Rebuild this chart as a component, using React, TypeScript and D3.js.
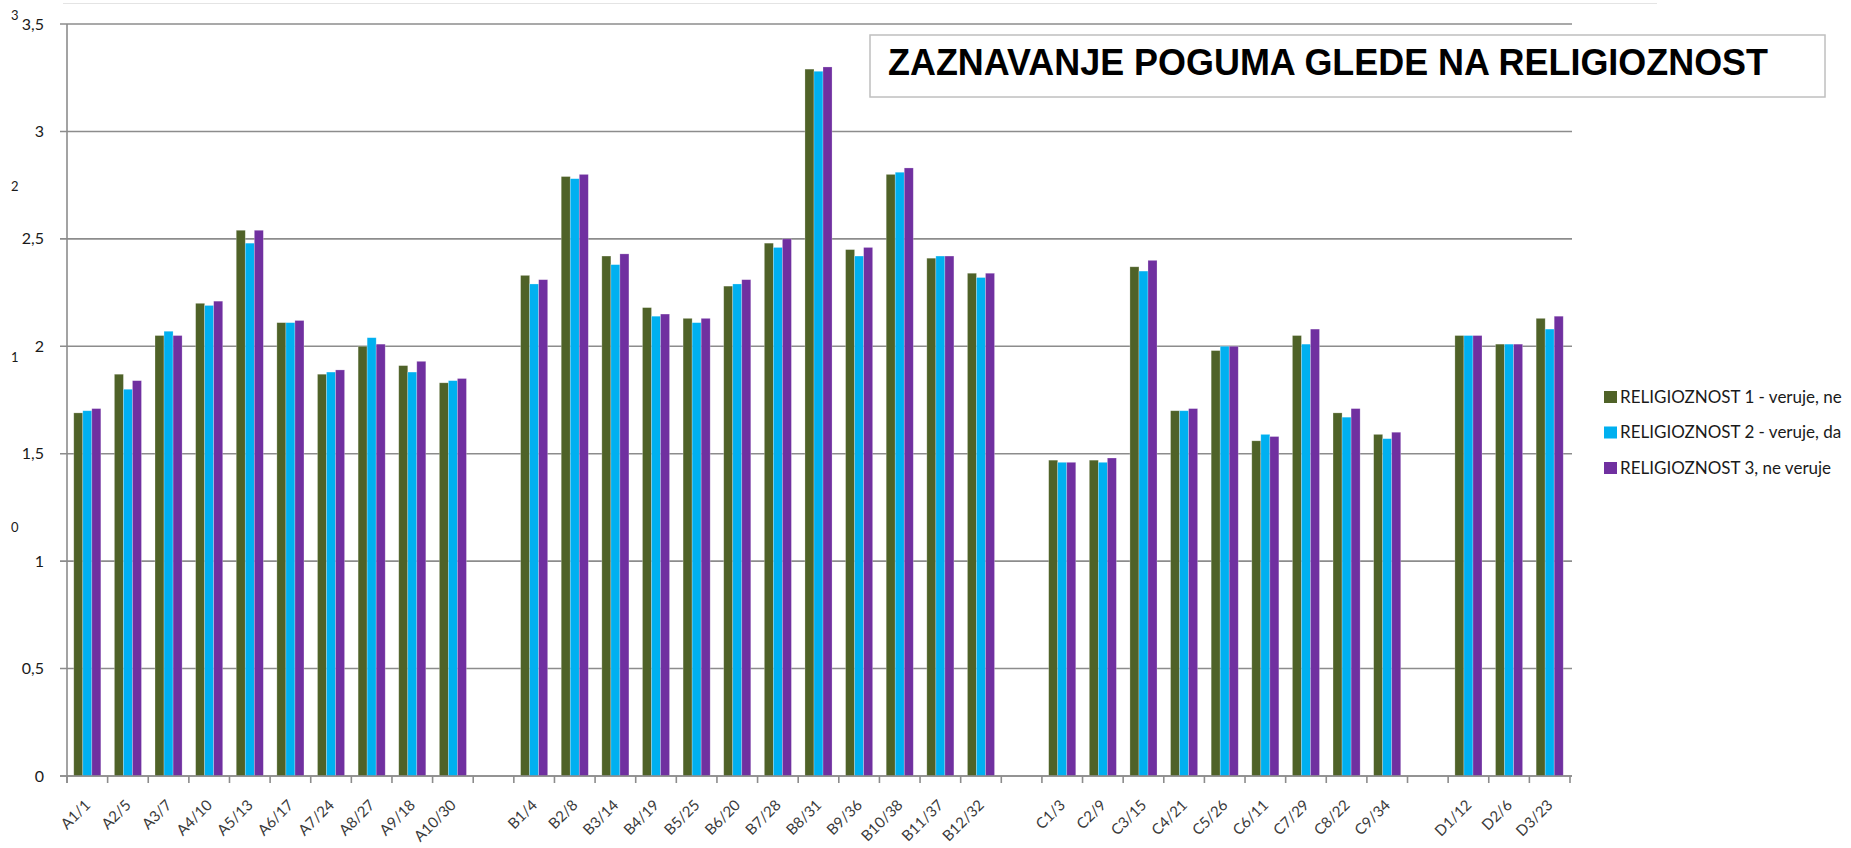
import * as d3 from "d3";

// empty strings are the blank spacer categories between the groups
const categories = [
  "A1/1", "A2/5", "A3/7", "A4/10", "A5/13", "A6/17", "A7/24", "A8/27", "A9/18", "A10/30",
  "",
  "B1/4", "B2/8", "B3/14", "B4/19", "B5/25", "B6/20", "B7/28", "B8/31", "B9/36", "B10/38", "B11/37", "B12/32",
  "",
  "C1/3", "C2/9", "C3/15", "C4/21", "C5/26", "C6/11", "C7/29", "C8/22", "C9/34",
  "",
  "D1/12", "D2/6", "D3/23",
];

const rel1 = [
  1.69, 1.87, 2.05, 2.2, 2.54, 2.11, 1.87, 2.0, 1.91, 1.83,
  null,
  2.33, 2.79, 2.42, 2.18, 2.13, 2.28, 2.48, 3.29, 2.45, 2.8, 2.41, 2.34,
  null,
  1.47, 1.47, 2.37, 1.7, 1.98, 1.56, 2.05, 1.69, 1.59,
  null,
  2.05, 2.01, 2.13,
];
const rel2 = [
  1.7, 1.8, 2.07, 2.19, 2.48, 2.11, 1.88, 2.04, 1.88, 1.84,
  null,
  2.29, 2.78, 2.38, 2.14, 2.11, 2.29, 2.46, 3.28, 2.42, 2.81, 2.42, 2.32,
  null,
  1.46, 1.46, 2.35, 1.7, 2.0, 1.59, 2.01, 1.67, 1.57,
  null,
  2.05, 2.01, 2.08,
];
const rel3 = [
  1.71, 1.84, 2.05, 2.21, 2.54, 2.12, 1.89, 2.01, 1.93, 1.85,
  null,
  2.31, 2.8, 2.43, 2.15, 2.13, 2.31, 2.5, 3.3, 2.46, 2.83, 2.42, 2.34,
  null,
  1.46, 1.48, 2.4, 1.71, 2.0, 1.58, 2.08, 1.71, 1.6,
  null,
  2.05, 2.01, 2.14,
];

const seriesNames = [
  "RELIGIOZNOST  1 - veruje, ne",
  "RELIGIOZNOST  2 - veruje, da",
  "RELIGIOZNOST  3, ne veruje",
];
const seriesColors = ["#4f6228", "#00b0f0", "#7030a0"];
const yTicks = [0, 0.5, 1, 1.5, 2, 2.5, 3, 3.5];
// leftover labels of a hidden secondary axis at the far left
const strayLabels = ["3", "2", "1", "0"];
const strayY = [15, 186, 357, 527];

const title = "ZAZNAVANJE POGUMA GLEDE NA RELIGIOZNOST";

const W = 1851;
const H = 848;
const left = 67;
const right = 1570;
const top = 24;
const bottom = 776;

const font = "Lato, 'Open Sans', sans-serif";

export default function App() {
  const series = [rel1, rel2, rel3];
  const x = d3
    .scaleBand<string>()
    .domain(categories.map((_, i) => String(i)))
    .range([left, right])
    .padding(0);
  const inner = d3
    .scaleBand<string>()
    .domain(["0", "1", "2"])
    .range([0, x.bandwidth()])
    .paddingInner(0)
    .paddingOuter(0.75);
  const y = d3.scaleLinear().domain([0, 3.5]).range([bottom, top]);
  const fmt = (v: number) => String(v).replace(".", ",");

  const boundaries = d3.range(categories.length + 1).map((i) => left + i * x.step());

  return (
    <svg
      width={W}
      height={H}
      style={{ position: "absolute", left: 0, top: 0, background: "#fff" }}
    >
      <line x1={63} x2={1657} y1={3.5} y2={3.5} stroke="#e4e4e4" strokeWidth={1} />

      {/* gridlines */}
      {yTicks.map((t) => (
        <line
          key={t}
          x1={60}
          x2={right + 2}
          y1={y(t)}
          y2={y(t)}
          stroke="#8c8c8c"
          strokeWidth={1.6}
        />
      ))}

      {/* bars */}
      {categories.map((c, i) =>
        series.map((s, k) => {
          const v = s[i];
          if (v == null) return null;
          return (
            <rect
              key={`${i}-${k}`}
              x={(x(String(i)) as number) + (inner(String(k)) as number)}
              y={y(v)}
              width={inner.bandwidth()}
              height={y(0) - y(v)}
              fill={seriesColors[k]}
              stroke="#ffffff"
              strokeOpacity={0.35}
              strokeWidth={0.7}
            />
          );
        })
      )}

      {/* axes */}
      <line x1={left} x2={left} y1={top} y2={bottom + 7} stroke="#8c8c8c" strokeWidth={1.6} />
      <line x1={60} x2={right + 2} y1={bottom} y2={bottom} stroke="#8c8c8c" strokeWidth={1.6} />
      {boundaries.map((bx, i) => (
        <line key={i} x1={bx} x2={bx} y1={bottom} y2={bottom + 7} stroke="#8c8c8c" strokeWidth={1.6} />
      ))}

      {/* y tick labels */}
      {yTicks.map((t) => (
        <text
          key={t}
          x={44}
          y={y(t)}
          dy="0.35em"
          textAnchor="end"
          fontFamily={font}
          fontSize={16}
          fill="#1a1a1a"
        >
          {fmt(t)}
        </text>
      ))}

      {strayLabels.map((s, i) => (
        <text
          key={i}
          x={11}
          y={strayY[i]}
          dy="0.35em"
          fontFamily={font}
          fontSize={13}
          fill="#1a1a1a"
        >
          {s}
        </text>
      ))}

      {/* x labels */}
      {categories.map((c, i) =>
        c ? (
          <text
            key={i}
            transform={`translate(${(x(String(i)) as number) + x.bandwidth() / 2 + 4}, 806) rotate(-45)`}
            textAnchor="end"
            fontFamily={font}
            fontSize={15}
            fill="#3a3a3a"
          >
            {c}
          </text>
        ) : null
      )}

      {/* title box */}
      <rect x={870} y={35} width={955} height={62} fill="#fff" stroke="#bfbfbf" strokeWidth={1.5} />
      <text
        x={888}
        y={75}
        fontFamily="'Liberation Sans', Arial, sans-serif"
        fontWeight="bold"
        fontSize={37}
        textLength={880}
        lengthAdjust="spacingAndGlyphs"
        fill="#000"
      >
        {title}
      </text>

      {/* legend */}
      {seriesNames.map((n, k) => (
        <g key={n} transform={`translate(1604, ${397 + k * 35.5})`}>
          <rect x={0} y={-6} width={13} height={12} fill={seriesColors[k]} />
          <text x={16} y={0} dy="0.35em" fontFamily={font} fontSize={17} fill="#1a1a1a">
            {n}
          </text>
        </g>
      ))}
    </svg>
  );
}
